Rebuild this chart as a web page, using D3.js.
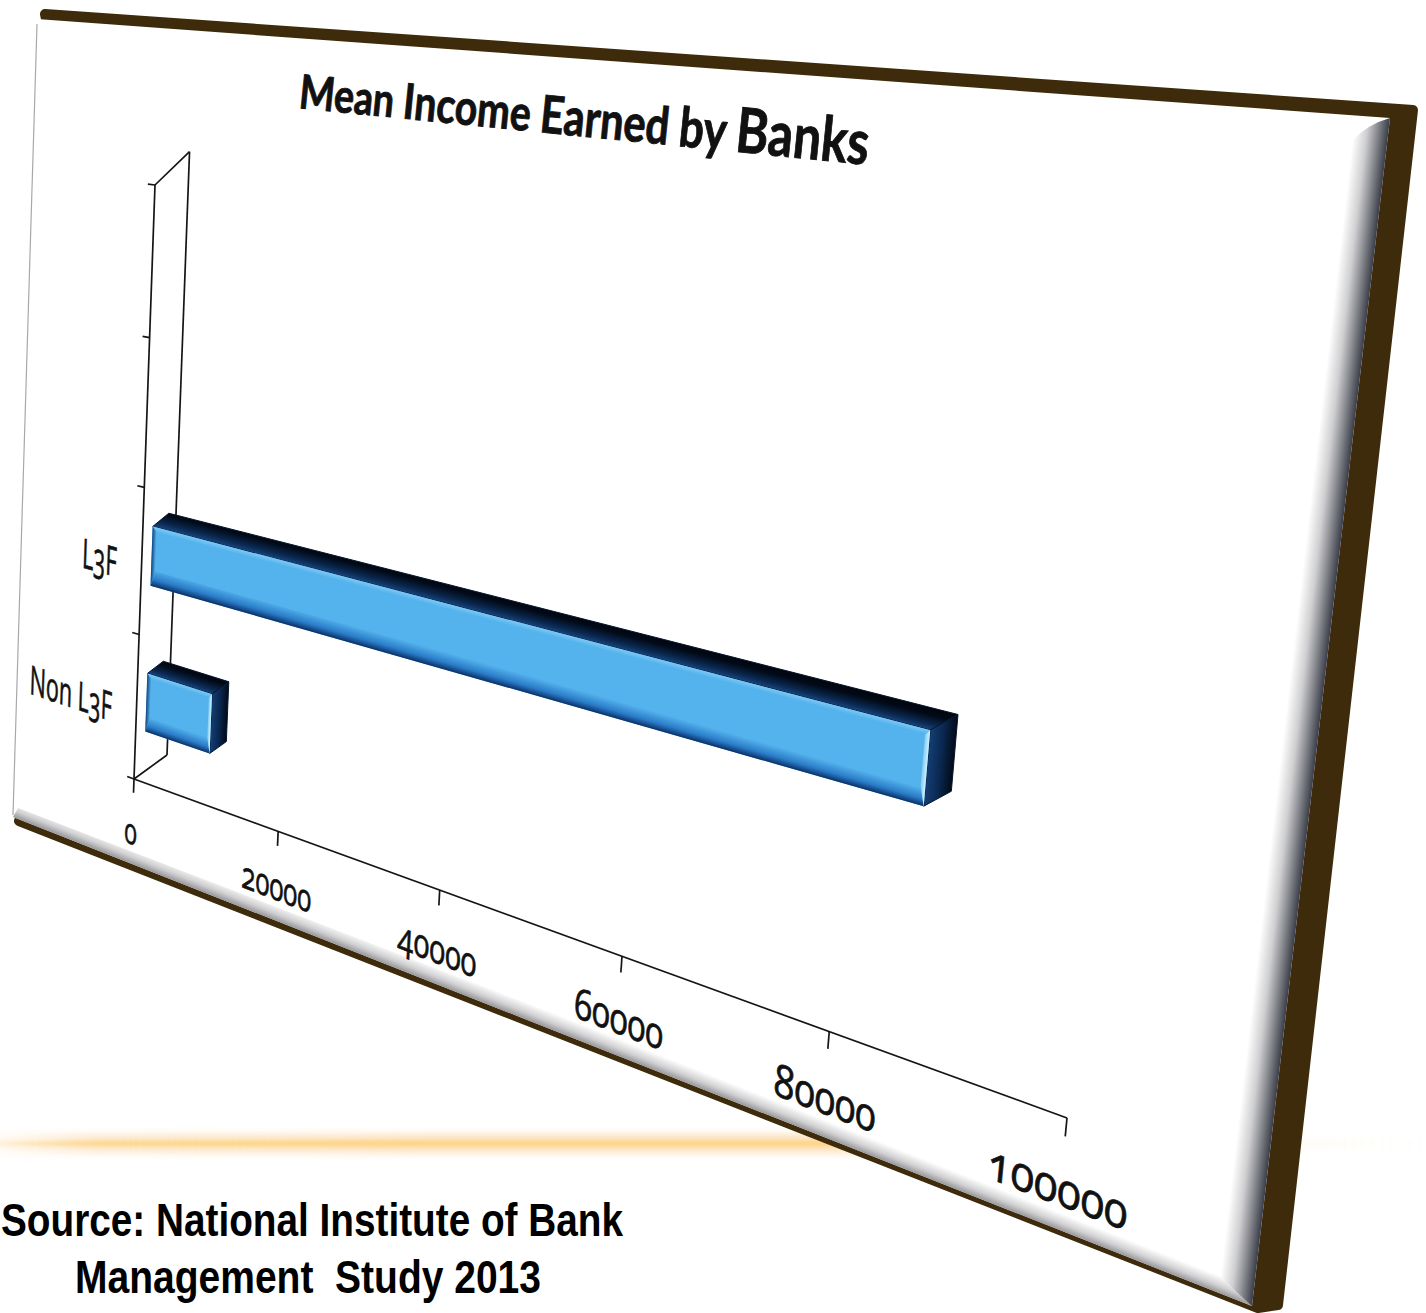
<!DOCTYPE html>
<html>
<head>
<meta charset="utf-8">
<script src="https://d3js.org/d3.v7.min.js"></script>
<style>
  html, body { margin: 0; padding: 0; background: #fff; overflow: hidden; }
  svg { display: block; }
</style>
</head>
<body>
<svg id="chart" width="1426" height="1313"></svg>
<script>
// Chart content
const categories = ["Non L3F", "L3F", " ", "  "];
const values = [9100, 85100];
const incomeTicks = [0, 20000, 40000, 60000, 80000, 100000];
const chartTitle = ["Mean", "Income", "Earned", "by", "Banks"];
const sourceLines = ["Source: National Institute of Bank", "Management  Study 2013"];

const svg = d3.select("#chart");
const defs = svg.append("defs");

// Scales work in a unit cube; the projection below tilts that cube onto the board.
const x = d3.scaleLinear().domain([0, 100000]).range([0, 1]);
const y = d3.scaleBand().domain(categories).range([0, 1]);

const origin = [134, 779], endX = [1067, 1118], endY = [155, 185], endZ = [167, 755];
const cx = -0.269, cy = -0.036, cz = -0.0134;

function project(t, v, z = 0) {
  const w = 1 + cx * t + cy * v + cz * z;
  return [0, 1].map(i =>
    (origin[i]
      + t * (endX[i] * (1 + cx) - origin[i])
      + v * (endY[i] * (1 + cy) - origin[i])
      + z * (endZ[i] * (1 + cz) - origin[i])) / w);
}

// Local affine frame of the projection, used to lay text onto the tilted plane.
function planeMatrix(t, v, sx = 1, sy = 1) {
  const e = 1e-4, p = project(t, v), a = project(t + e, v), b = project(t, v + e);
  return `matrix(${sx * (a[0] - p[0]) / e / 800},${sx * (a[1] - p[1]) / e / 800},` +
         `${-sy * (b[0] - p[0]) / e / 600},${-sy * (b[1] - p[1]) / e / 600},${p[0]},${p[1]})`;
}

const pathOf = pts => "M" + pts.map(p => p.join(",")).join("L") + "Z";

// Fill a long quad with a gradient running across it, from edge a-b to edge d-c.
let gradientCount = 0;
function crossGradient(a, b, c, d, stops) {
  const mid = [(c[0] + d[0]) / 2, (c[1] + d[1]) / 2];
  const ux = b[0] - a[0], uy = b[1] - a[1];
  const k = ((mid[0] - a[0]) * ux + (mid[1] - a[1]) * uy) / (ux * ux + uy * uy);
  const foot = [a[0] + k * ux, a[1] + k * uy];
  const id = "g" + (++gradientCount);
  const g = defs.append("linearGradient").attr("id", id)
    .attr("gradientUnits", "userSpaceOnUse")
    .attr("x1", foot[0]).attr("y1", foot[1]).attr("x2", mid[0]).attr("y2", mid[1]);
  stops.forEach(s => g.append("stop").attr("offset", s[0]).attr("stop-color", s[1]));
  return `url(#${id})`;
}

// Glowing rule behind the board
const ruleFade = (id, color) => {
  const g = defs.append("linearGradient").attr("id", id)
    .attr("gradientUnits", "userSpaceOnUse")
    .attr("x1", 0).attr("y1", 0).attr("x2", 1426).attr("y2", 0);
  [[0, 0.2], [0.07, 0.8], [0.3, 1], [0.58, 1], [0.9, 0.06], [1, 0]].forEach(s =>
    g.append("stop").attr("offset", s[0]).attr("stop-color", color).attr("stop-opacity", s[1]));
};
ruleFade("ruleGlow", "#fcdcb0");
ruleFade("ruleCore", "#fdd684");
defs.append("filter").attr("id", "softWide").attr("y", "-200%").attr("height", "500%")
  .append("feGaussianBlur").attr("stdDeviation", "0 4");
defs.append("filter").attr("id", "softThin").attr("y", "-300%").attr("height", "700%")
  .append("feGaussianBlur").attr("stdDeviation", "0 1.6");
svg.append("rect").attr("x", 0).attr("y", 1135).attr("width", 1426).attr("height", 17)
  .attr("fill", "url(#ruleGlow)").attr("filter", "url(#softWide)");
svg.append("rect").attr("x", 0).attr("y", 1141).attr("width", 1426).attr("height", 5)
  .attr("fill", "url(#ruleCore)").attr("filter", "url(#softThin)");

// Board: brown back plate, white face, shaded bevels along the right and lower edges
const face = { tl: [37, 19], tr: [1390, 118], br: [1252, 1306], bl: [13, 817] };
svg.append("path")
  .attr("d", pathOf([[45, 14], [1413, 110], [1278, 1305], [1258, 1308], [19, 821], [32, 790], [50, 40]]))
  .attr("fill", "#3d2b0b").attr("stroke", "#3d2b0b")
  .attr("stroke-width", 10).attr("stroke-linejoin", "round");
svg.append("path").attr("d", pathOf([face.tl, face.tr, face.br, face.bl])).attr("fill", "#fff");

const lowInner = [[18, 808], [1222, 1270]];
svg.append("path").attr("d", pathOf([face.bl, face.br, lowInner[1], lowInner[0]]))
  .attr("fill", crossGradient(face.bl, face.br, lowInner[1], lowInner[0],
    [[0, "#98989c"], [0.4, "#d0d0d2"], [1, "#ffffff"]]));
const sideInner = [[1353, 140], [1220, 1276]];
svg.append("path")
  .attr("d", `M${face.tr}Q1368,124 ${sideInner[0]}L${sideInner[1]}Q1236,1292 ${face.br}Z`)
  .attr("fill", crossGradient(face.tr, face.br, sideInner[1], sideInner[0],
    [[0, "#3a3c48"], [0.3, "#83858b"], [0.62, "#cfcfd1"], [1, "#ffffff"]]));
svg.append("line").attr("x1", 37).attr("y1", 24).attr("x2", 13).attr("y2", 815)
  .attr("stroke", "#a8a8a8").attr("stroke-width", 1.2);

// Axes
const axis = svg.append("g").attr("fill", "none").attr("stroke", "#151515").attr("stroke-width", 1.7);
const drawSegment = (a, b) => axis.append("path").attr("d", "M" + a + "L" + b);

drawSegment(project(0, 0), project(0, 1));
drawSegment(project(0, 0), project(1, 0));
drawSegment(project(0, 0), project(0, 0, 1));
drawSegment(project(0, 0, 1), project(0, 1, 1));
drawSegment(project(0, 1, 1), project(0, 1));

incomeTicks.forEach(d => drawSegment(project(x(d), 0), project(x(d), -0.024)));
categories.forEach(c => drawSegment(project(0, y(c) + y.bandwidth()), project(-0.01, y(c) + y.bandwidth())));
drawSegment(project(0, 0), project(-0.01, 0));

// Bars: one solid box per category, with a bevelled front face
const barLow = 0.28, barHigh = 0.68, zFront = 0.3, zBack = 0.78;
const boxes = svg.append("g");
categories.slice(0, values.length).forEach((c, i) => {
  const v0 = y(c) + barLow * y.bandwidth(), v1 = y(c) + barHigh * y.bandwidth();
  const t1 = x(values[i]);
  const A = project(0, v0, zFront), B = project(t1, v0, zFront);
  const C = project(t1, v1, zFront), D = project(0, v1, zFront);
  const E = project(0, v1, zBack), F = project(t1, v1, zBack), G = project(t1, v0, zBack);

  // top face
  boxes.append("path").attr("d", pathOf([D, C, F, E]))
    .attr("fill", crossGradient(D, C, F, E, [[0, "#174680"], [0.3, "#0a2850"], [0.75, "#020a18"], [1, "#02060f"]]))
    .attr("stroke", "#04152e").attr("stroke-width", 1).attr("stroke-linejoin", "round");
  // end face
  boxes.append("path").attr("d", pathOf([C, F, G, B]))
    .attr("fill", crossGradient(C, B, G, F, [[0, "#143f75"], [0.5, "#0a2850"], [1, "#020a18"]]))
    .attr("stroke", "#04152e").attr("stroke-width", 1).attr("stroke-linejoin", "round");
  // front face
  boxes.append("path").attr("d", pathOf([A, B, C, D])).attr("fill", "#54b2ec");

  const vEdge = (v1 - v0) * 0.26, tEdge = 0.006, tLight = 0.004;
  const a2 = project(tEdge, v0 + vEdge, zFront), b2 = project(t1 - tLight, v0 + vEdge, zFront);
  const c2 = project(t1 - tLight, v1 - vEdge * 0.3, zFront), d2 = project(tEdge, v1 - vEdge * 0.3, zFront);
  boxes.append("path").attr("d", pathOf([A, B, b2, a2]))
    .attr("fill", crossGradient(A, B, b2, a2, [[0, "#0a3068"], [0.4, "#2a7cc8"], [1, "#54b2ec"]]));
  boxes.append("path").attr("d", pathOf([D, C, c2, d2]))
    .attr("fill", crossGradient(D, C, c2, d2, [[0, "#7cc9f5"], [1, "#54b2ec"]]));
  boxes.append("path").attr("d", pathOf([A, D, d2, a2]))
    .attr("fill", crossGradient(A, D, d2, a2, [[0, "#10457f"], [1, "#54b2ec"]]));
  boxes.append("path").attr("d", pathOf([B, C, c2, b2]))
    .attr("fill", crossGradient(C, B, b2, c2, [[0, "#d2f2ff"], [1, "#7ccaf3"]]));
});

// Text laid on the tilted plane
const labelFont = "'Open Sans', Lato, sans-serif";
const tiltedText = svg.append("g").attr("font-family", labelFont).attr("fill", "#111")
  .attr("stroke", "#111").attr("stroke-width", 0.45)
  .style("font-variant-numeric", "oldstyle-nums");

incomeTicks.forEach(d => {
  tiltedText.append("text")
    .attr("transform", planeMatrix(x(d) + (d === 0 ? -0.002 : d === 100000 ? -0.002 : 0.001), -0.09, 1, 1.4))
    .attr("text-anchor", "middle").attr("dominant-baseline", "central")
    .attr("font-size", 27).text(d);
});

categories.slice(0, values.length).forEach(c => {
  tiltedText.append("text")
    .attr("transform", planeMatrix(-0.036, y(c) + y.bandwidth() / 2 - 0.012, 0.95, 1.55))
    .attr("text-anchor", "end").attr("dominant-baseline", "central")
    .attr("font-size", 27).text(c);
});

// Title, growing slightly towards its right end
const titleSizes = [47, 49, 52, 55, 62];
const title = svg.append("text").attr("transform", "translate(298,108) rotate(5.7)")
  .attr("font-family", "Lato, 'Open Sans', sans-serif").attr("font-weight", 700)
  .attr("fill", "#111").attr("stroke", "#111").attr("stroke-width", 0.9)
  .attr("textLength", 572).attr("lengthAdjust", "spacingAndGlyphs");
chartTitle.forEach((w, i) => {
  title.append("tspan").attr("font-size", titleSizes[i]).text(w + (i < chartTitle.length - 1 ? " " : ""));
});

// Source note
const source = svg.append("g").attr("font-family", "'Liberation Sans', Arial, sans-serif")
  .attr("font-weight", 700).attr("fill", "#000").attr("font-size", 47).attr("text-anchor", "middle");
source.append("text").attr("x", 312).attr("y", 1236).attr("textLength", 622)
  .attr("lengthAdjust", "spacingAndGlyphs").text(sourceLines[0]);
source.append("text").attr("x", 308).attr("y", 1293).attr("textLength", 466)
  .attr("lengthAdjust", "spacingAndGlyphs").attr("xml:space", "preserve")
  .style("white-space", "pre").text(sourceLines[1]);
</script>
</body>
</html>
